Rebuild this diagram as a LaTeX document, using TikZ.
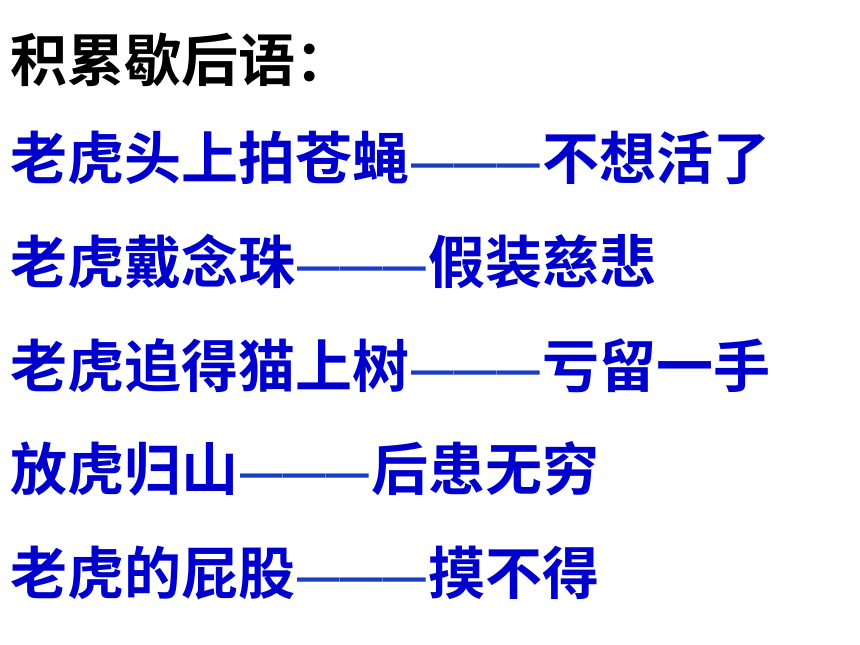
\documentclass[tikz,border=0pt]{standalone}
\usepackage{fontspec}
\newfontfamily\cjk{Noto Sans CJK SC Bold}
\newfontfamily\dashfont{Liberation Sans Bold}
\definecolor{txtblue}{HTML}{0000CC}
\definecolor{dashblue}{HTML}{1A3DC8}
\tikzset{
  title/.style={inner sep=0pt, anchor=base west, font=\cjk\fontsize{42.75pt}{50pt}\selectfont, text=black},
  left/.style={inner sep=0pt, anchor=base west, font=\cjk\fontsize{42.75pt}{50pt}\selectfont, text=txtblue},
  dsh/.style={inner sep=0pt, anchor=base west, font=\dashfont\fontsize{32pt}{36pt}\selectfont, text=dashblue, xshift=2*0.75pt, yshift=2pt},
  right/.style={inner sep=0pt, anchor=base west, font=\cjk\fontsize{42.75pt}{50pt}\selectfont, text=txtblue, xshift=2*0.75pt, yshift=-2pt}
}
\begin{document}
\begin{tikzpicture}[x=0.75pt,y=-0.75pt]
\useasboundingbox[fill=white] (0,0) rectangle (860,645);
\node[title] (t) at (10,82) {积累歇后语：};
% line 1
\node[left] (a1) at (10,180) {老虎头上拍苍蝇};
\node[dsh] (d1) at (a1.base east) {———};
\node[right] (b1) at (d1.base east) {不想活了};
% line 2
\node[left] (a2) at (10,283.5) {老虎戴念珠};
\node[dsh] (d2) at (a2.base east) {———};
\node[right] (b2) at (d2.base east) {假装慈悲};
% line 3
\node[left] (a3) at (10,387) {老虎追得猫上树};
\node[dsh] (d3) at (a3.base east) {———};
\node[right] (b3) at (d3.base east) {亏留一手};
% line 4
\node[left] (a4) at (10,490.5) {放虎归山};
\node[dsh] (d4) at (a4.base east) {———};
\node[right] (b4) at (d4.base east) {后患无穷};
% line 5
\node[left] (a5) at (10,594) {老虎的屁股};
\node[dsh] (d5) at (a5.base east) {———};
\node[right] (b5) at (d5.base east) {摸不得};
\end{tikzpicture}
\end{document}
